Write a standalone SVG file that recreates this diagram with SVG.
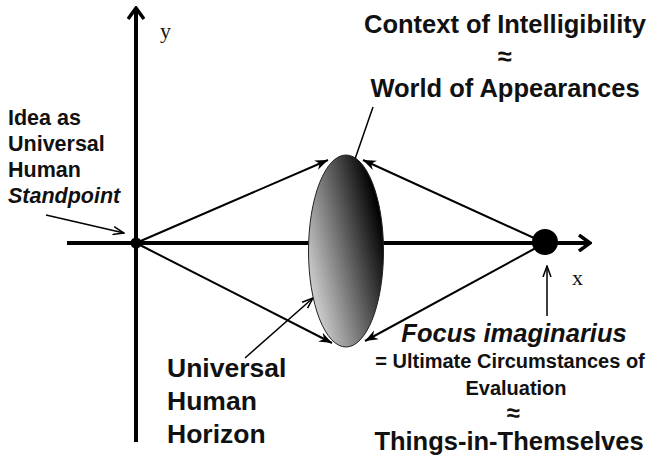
<svg xmlns="http://www.w3.org/2000/svg" width="652" height="462" viewBox="0 0 652 462">
<style>
.lbl{font-family:"Liberation Sans",Arial,sans-serif;font-weight:bold;fill:#111}
.ax{stroke:#000;stroke-width:4;fill:none}
.con{stroke:#000;stroke-width:2;fill:none}
.ptr{stroke:#000;stroke-width:1.5;fill:none}
.var{font-family:"Liberation Serif","Times New Roman",serif;font-size:22px;fill:#111}
</style>
<defs>
<marker id="axhead" markerUnits="userSpaceOnUse" viewBox="0 0 14 18" refX="12" refY="9" markerWidth="14" markerHeight="18" orient="auto">
<path d="M1,1 L12,9 L1,17" fill="none" stroke="#000" stroke-width="3.5"/>
</marker>
<marker id="conhead" markerUnits="userSpaceOnUse" viewBox="0 0 14 12" refX="13" refY="6" markerWidth="14" markerHeight="12" orient="auto">
<path d="M0,1 L13,6 L0,11 L4,6 Z" fill="#000"/>
</marker>
<marker id="ptrhead" markerUnits="userSpaceOnUse" viewBox="0 0 12 10" refX="11" refY="5" markerWidth="12" markerHeight="10" orient="auto">
<path d="M0,1 L11,5 L0,9" fill="none" stroke="#000" stroke-width="1.5"/>
</marker>
<linearGradient id="lens" x1="0.05" y1="0.85" x2="0.95" y2="0.3">
<stop offset="0" stop-color="#dcdcdc"/>
<stop offset="1" stop-color="#000"/>
</linearGradient>
</defs>

<g id="connectors">
<line class="ax" x1="136" y1="442" x2="136" y2="8" marker-end="url(#axhead)"/>
<line class="ax" x1="67" y1="243" x2="590" y2="243" marker-end="url(#axhead)"/>
<line class="con" x1="136" y1="243" x2="328" y2="160" marker-end="url(#conhead)"/>
<line class="con" x1="136" y1="243" x2="332" y2="343" marker-end="url(#conhead)"/>
<line class="con" x1="545" y1="243" x2="363" y2="160" marker-end="url(#conhead)"/>
<line class="con" x1="545" y1="243" x2="365" y2="341" marker-end="url(#conhead)"/>
<line class="ptr" x1="46" y1="215" x2="124" y2="233" marker-end="url(#ptrhead)"/>
<line class="ptr" x1="373" y1="107" x2="345" y2="188" marker-end="url(#ptrhead)"/>
<line class="ptr" x1="245" y1="358" x2="313" y2="298" marker-end="url(#ptrhead)"/>
<line class="ptr" x1="547" y1="316" x2="547" y2="266" marker-end="url(#ptrhead)"/>
</g>

<g id="horizon">
<ellipse cx="346" cy="251" rx="37.5" ry="96" fill="url(#lens)" stroke="#222" stroke-width="1"/>
</g>

<g id="standpoint">
<circle cx="136" cy="243" r="5.5" fill="#000"/>
</g>

<g id="focus">
<circle cx="545" cy="242" r="13" fill="#000"/>
</g>

<g id="axis-labels">
<text class="var" x="160" y="38">y</text>
<text class="var" x="572" y="285">x</text>
</g>

<g id="label-standpoint">
<text class="lbl" font-size="21.5" x="8" y="125">Idea as</text>
<text class="lbl" font-size="21.5" x="8" y="151">Universal</text>
<text class="lbl" font-size="21.5" x="8" y="177">Human</text>
<text class="lbl" font-size="21.5" x="8" y="203" font-style="italic">Standpoint</text>
</g>

<g id="label-context" text-anchor="middle">
<text class="lbl" font-size="25.5" x="505" y="33">Context of Intelligibility</text>
<text class="lbl" font-size="25.5" x="505" y="65">≈</text>
<text class="lbl" font-size="25.5" x="505" y="97">World of Appearances</text>
</g>

<g id="label-horizon">
<text class="lbl" font-size="26.5" x="167" y="377">Universal</text>
<text class="lbl" font-size="26.5" x="167" y="410">Human</text>
<text class="lbl" font-size="26.5" x="167" y="443">Horizon</text>
</g>

<g id="label-focus" text-anchor="middle">
<text class="lbl" font-size="25.5" x="514" y="342" font-style="italic">Focus imaginarius</text>
<text class="lbl" font-size="20" x="510" y="368">= Ultimate Circumstances of</text>
<text class="lbl" font-size="20" x="516" y="395">Evaluation</text>
<text class="lbl" font-size="24" x="513" y="421">≈</text>
<text class="lbl" font-size="25.5" x="509" y="450">Things-in-Themselves</text>
</g>
</svg>
